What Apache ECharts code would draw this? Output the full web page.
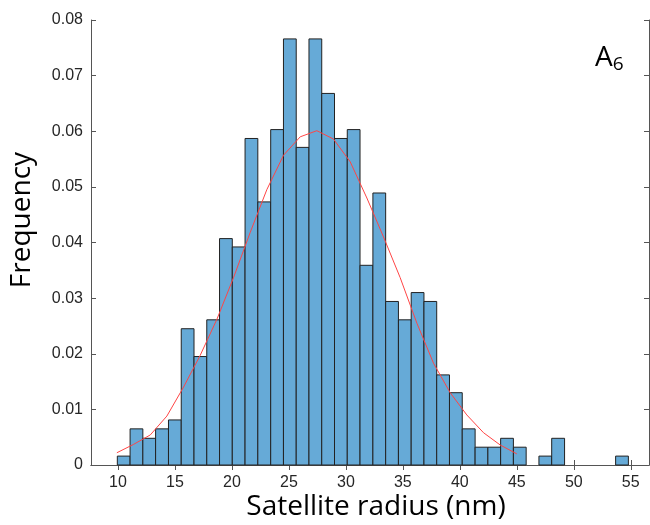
<!DOCTYPE html>
<html>
<head>
<meta charset="utf-8">
<script src="https://cdn.jsdelivr.net/npm/echarts@6/dist/echarts.min.js"></script>
<style>html,body{margin:0;padding:0;background:#fff}#c{width:650px;height:525px}</style>
</head>
<body>
<div id="c"></div>
<script>
// Histogram bin edges (nm)
const binEdges = [9.94, 11.06, 12.18, 13.30, 14.43, 15.55, 16.67, 17.79, 18.91, 20.03,
  21.15, 22.27, 23.40, 24.52, 25.64, 26.76, 27.88, 29.00, 30.12, 31.24,
  32.37, 33.49, 34.61, 35.73, 36.85, 37.97, 39.09, 40.21, 41.34, 42.46,
  43.58, 44.70, 45.82, 46.94, 48.06, 49.19, 50.31, 51.43, 52.55, 53.67, 54.79];
// Frequency per bin
const binFreq = [0.0016, 0.0065, 0.0048, 0.0065, 0.0081, 0.0245, 0.0195, 0.0261, 0.0407, 0.0392,
  0.0587, 0.0473, 0.0603, 0.0766, 0.0571, 0.0766, 0.0668, 0.0587, 0.0603, 0.0359,
  0.0489, 0.0294, 0.0261, 0.0310, 0.0294, 0.0162, 0.0130, 0.0065, 0.0032, 0.0032,
  0.0048, 0.0032, 0, 0.0016, 0.0048, 0, 0, 0, 0, 0.0016];
// Fitted curve
const fitX = [9.90, 11.36, 12.83, 14.29, 15.75, 17.21, 18.68, 20.14, 21.60, 23.06,
  24.53, 25.99, 27.45, 28.91, 30.38, 31.84, 33.30, 34.76, 36.23, 37.69,
  39.15, 40.61, 42.08, 43.54, 45.00];
const fitY = [0.0022, 0.0037, 0.0054, 0.0088, 0.0140, 0.0197, 0.0262, 0.0337, 0.0418, 0.0495,
  0.0557, 0.0590, 0.0601, 0.0586, 0.0545, 0.0480, 0.0410, 0.0337, 0.0255, 0.0183,
  0.0130, 0.0090, 0.0058, 0.0036, 0.0020];
const xTicks = [10, 15, 20, 25, 30, 35, 40, 45, 50, 55];
const xTitle = 'Satellite radius (nm)';
const yTitle = 'Frequency';

const barData = binFreq.map((f, i) => [binEdges[i], binEdges[i + 1], f]);
const lineData = fitX.map((x, i) => [x, fitY[i]]);

const XMIN = 7.63, XMAX = 56.6;
const axisCol = '#555555', labelCol = '#262626';
const chart = echarts.init(document.getElementById('c'));
chart.setOption({
  animation: false,
  grid: {left: 91, right: 1, top: 20, bottom: 60},
  xAxis: [{
    type: 'value', min: XMIN, max: XMAX, position: 'bottom',
    axisLine: {show: true, lineStyle: {color: axisCol, width: 1}},
    axisTick: {show: true, inside: true, length: 5, customValues: xTicks, lineStyle: {color: axisCol}},
    axisLabel: {customValues: xTicks, color: labelCol, fontFamily: 'Liberation Sans', fontSize: 16, margin: 10},
    splitLine: {show: false}
  }, {
    type: 'value', min: XMIN, max: XMAX, position: 'top',
    axisLine: {show: true, lineStyle: {color: axisCol, width: 1}},
    axisTick: {show: true, inside: true, length: 5, customValues: xTicks, lineStyle: {color: axisCol}},
    axisLabel: {show: false},
    splitLine: {show: false}
  }],
  yAxis: [{
    type: 'value', min: 0, max: 0.08, interval: 0.01, position: 'left',
    axisLine: {show: true, lineStyle: {color: axisCol, width: 1}},
    axisTick: {show: true, inside: true, length: 5, lineStyle: {color: axisCol}},
    axisLabel: {color: labelCol, fontFamily: 'Liberation Sans', fontSize: 16, margin: 8,
      formatter: v => v === 0 ? '0' : v.toFixed(2)},
    splitLine: {show: false}
  }, {
    type: 'value', min: 0, max: 0.08, interval: 0.01, position: 'right',
    axisLine: {show: true, lineStyle: {color: axisCol, width: 1}},
    axisTick: {show: true, inside: true, length: 5, lineStyle: {color: axisCol}},
    axisLabel: {show: false},
    splitLine: {show: false}
  }],
  series: [{
    type: 'custom',
    xAxisIndex: 0, yAxisIndex: 0,
    data: barData,
    encode: {x: [0, 1], y: 2},
    renderItem: function (params, api) {
      const h = api.value(2);
      if (!h) return null;
      const p0 = api.coord([api.value(0), h]);
      const p1 = api.coord([api.value(1), 0]);
      return {
        type: 'rect',
        shape: {x: p0[0], y: p0[1], width: p1[0] - p0[0], height: p1[1] - p0[1]},
        style: {fill: '#66AAD7', stroke: '#222222', lineWidth: 1}
      };
    },
    z: 2
  }, {
    type: 'line',
    xAxisIndex: 0, yAxisIndex: 0,
    data: lineData,
    showSymbol: false,
    lineStyle: {color: '#ff4545', width: 1},
    z: 3
  }],
  graphic: [{
    type: 'text', x: 376, y: 507,
    style: {text: xTitle, fontFamily: 'Open Sans', fontSize: 28, fill: '#000',
      align: 'center', verticalAlign: 'middle'}
  }, {
    type: 'text', x: 22, y: 220, rotation: Math.PI / 2,
    style: {text: yTitle, fontFamily: 'Open Sans', fontSize: 28, fill: '#000',
      align: 'center', verticalAlign: 'middle'}
  }, {
    type: 'text', left: 595, top: 44,
    style: {
      text: '{a|A}{s|6}',
      rich: {
        a: {fontFamily: 'Open Sans', fontSize: 28, fill: '#000'},
        s: {fontFamily: 'Open Sans', fontSize: 19, fill: '#000', verticalAlign: 'bottom', padding: [14, 0, 0, 0]}
      }
    }
  }]
});
</script>
</body>
</html>
